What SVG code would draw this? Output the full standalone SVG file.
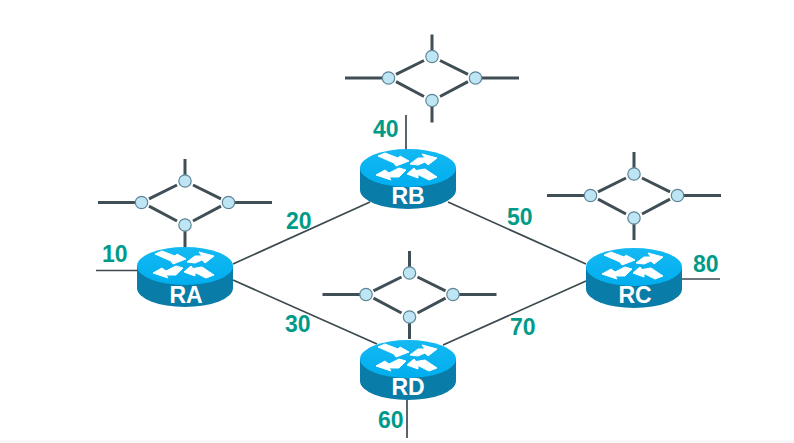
<svg xmlns="http://www.w3.org/2000/svg" width="794" height="443" viewBox="0 0 794 443">
<style>
.link{stroke:#3c4a50;stroke-width:1.7;fill:none}
.seg{stroke:#3f4f55;stroke-width:3;fill:none}
.dot{fill:#bde5f4;stroke:#5f8596;stroke-width:1.2}
.lbl{font-family:"Liberation Sans",Arial,sans-serif;font-weight:700;font-size:23px;fill:#009b88}
.name{font-family:"Liberation Sans",Arial,sans-serif;font-weight:700;font-size:23px;fill:#fff;text-anchor:middle}
</style>
<defs>
<linearGradient id="top" x1="0" y1="0" x2="0" y2="1"><stop offset="0" stop-color="#14b9f2"/><stop offset="1" stop-color="#00aeef"/></linearGradient>
<g id="router">
<path d="M-48 0V22A48 19 0 0 0 48 22V0Z" fill="#0a7ca8"/>
<ellipse rx="48" ry="19" fill="url(#top)"/>
<g fill="#fff" stroke="#fff" stroke-width="1" stroke-linejoin="round">
<path d="M-30-12-23-15-10-10-8-12 1-7-12-2-14-5Z"/>
<path d="M2-4 10-3 17-6 20-3 29-10 14-14 17-10 10-10Z"/>
<path d="M-2 2-9 0-19 5-23 2-32 7-17 12-19 9-9 9Z"/>
<path d="M-1 6 6 0 8 2.500 17 1 29 9 21 12 10 6.500 10 10Z"/>
</g>
</g>
<g id="ring">
<path class="seg" d="M-87 0H-43.500M43.500 0H87M0-43.500V-21.500M0 22.500V44.500M-36-3.700-8-17.500M8-17.500 36-3.700M-36 3.700-8 18.500M8 18.500 36 3.700"/>
<circle class="dot" cx="0" cy="-21.500" r="6.200"/>
<circle class="dot" cx="-43.500" cy="0" r="6.200"/>
<circle class="dot" cx="43.500" cy="0" r="6.200"/>
<circle class="dot" cx="0" cy="22.500" r="6.200"/>
</g>
</defs>
<rect width="794" height="443" fill="#fff"/>
<rect y="440" width="794" height="3" fill="#f7f7f7"/>
<g id="connectors">
<path class="link" d="M233 264 370 202M448 202 586 264M233 280 377 344M443 345 586 281"/>
<path class="link" d="M96 270.500H137M406 115V150M682 279H720M407 400V438"/>
</g>
<g id="lan-a"><use href="#ring" transform="translate(185 202.500)"/></g>
<g id="lan-b"><use href="#ring" transform="translate(432 78)"/></g>
<g id="lan-c"><use href="#ring" transform="translate(634 195.500)"/></g>
<g id="lan-d"><use href="#ring" transform="translate(409.500 294.500)"/></g>
<g id="RA"><use href="#router" transform="translate(185 266)"/><text class="name" x="186" y="303">RA</text></g>
<g id="RB"><use href="#router" transform="translate(408 168)"/><text class="name" x="408" y="204">RB</text></g>
<g id="RC"><use href="#router" transform="translate(634 267)"/><text class="name" x="635" y="303">RC</text></g>
<g id="RD"><use href="#router" transform="translate(408 359)"/><text class="name" x="408" y="395">RD</text></g>
<g id="labels">
<text class="lbl" x="102" y="262">10</text>
<text class="lbl" x="373" y="137">40</text>
<text class="lbl" x="286" y="229">20</text>
<text class="lbl" x="507" y="225">50</text>
<text class="lbl" x="285" y="332">30</text>
<text class="lbl" x="510" y="335">70</text>
<text class="lbl" x="693" y="272">80</text>
<text class="lbl" x="378" y="428">60</text>
</g>
</svg>
